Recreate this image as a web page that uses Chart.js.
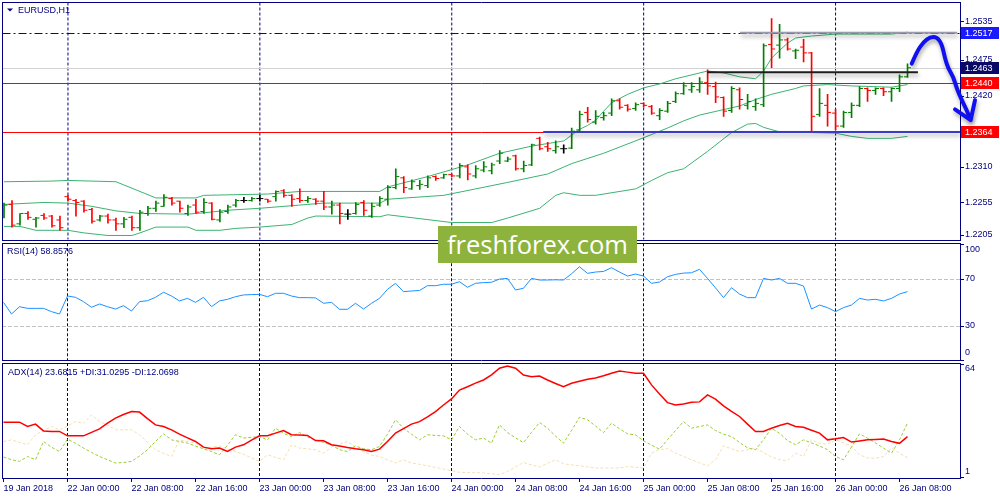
<!DOCTYPE html>
<html><head><meta charset="utf-8">
<script src="https://cdn.jsdelivr.net/npm/chart.js@4/dist/chart.umd.min.js"></script>
<style>
html,body{margin:0;padding:0;background:#fff;}
#wrap{position:relative;width:1000px;height:500px;overflow:hidden;background:#fff;}
canvas{position:absolute;left:0;}
#wm{position:absolute;left:438px;top:226px;width:199px;height:37px;background:#8db33c;color:#fff;font:25.5px "Open Sans",sans-serif;line-height:36px;text-align:center;white-space:nowrap;}
</style></head><body>
<div id="wrap">
<canvas id="cMain" width="1000" height="242" style="top:0px"></canvas>
<canvas id="cRsi" width="1000" height="120" style="top:242px"></canvas>
<canvas id="cAdx" width="1000" height="138" style="top:362px"></canvas>
<div id="wm">freshforex.com</div>
</div>
<script>
// ---------------- DATA ----------------
const symbolTitle = 'EURUSD,H1';
const rsiTitle = 'RSI(14) 58.8576';
const adxTitle = 'ADX(14) 23.6815 +DI:31.0295 -DI:12.0698';

const tickIdx = [0,8,16,24,32,40,48,56,64,72,80,88,96,104,112];
const xLabels = ['19 Jan 2018','22 Jan 00:00','22 Jan 08:00','22 Jan 16:00','23 Jan 00:00','23 Jan 08:00','23 Jan 16:00','24 Jan 00:00','24 Jan 08:00','24 Jan 16:00','25 Jan 00:00','25 Jan 08:00','25 Jan 16:00','26 Jan 00:00','26 Jan 08:00'];
const separatorIdx = [8,32,56,80,104];

const opens = [1.2234,1.2252,1.2222,1.2238,1.2229,1.2235,1.2234,1.2228,1.2264,1.2258,
1.2257,1.2244,1.2228,1.2234,1.2228,1.2222,1.2232,1.2216,1.2238,1.2246,
1.2249,1.2261,1.2257,1.2238,1.2251,1.2241,1.2254,1.2228,1.2241,1.2251,
1.2258,1.2258,1.2261,1.2260,1.2264,1.2273,1.2266,1.2261,1.2258,1.2260,
1.2257,1.2248,1.2251,1.2237,1.2238,1.2255,1.2234,1.2251,1.2260,1.2278,
1.2293,1.2276,1.2281,1.2281,1.2295,1.2293,1.2298,1.2296,1.2310,1.2296,
1.2305,1.2304,1.2319,1.2319,1.2327,1.2307,1.2313,1.2354,1.2341,1.2335,
1.2338,1.2339,1.2367,1.2394,1.2379,1.2386,1.2393,1.2412,1.2405,1.2400,
1.2408,1.2403,1.2389,1.2396,1.2411,1.2423,1.2429,1.2429,1.2440,1.2434,
1.2417,1.2397,1.2429,1.2405,1.2403,1.2406,1.2499,1.2498,1.2506,1.2489,
1.2495,1.2486,1.2391,1.2405,1.2393,1.2373,1.2394,1.2405,1.2431,1.2428,
1.2431,1.2426,1.2431,1.2449];
const highs = [1.2254,1.2258,1.2238,1.2241,1.2232,1.2238,1.2235,1.2234,1.2266,1.2260,
1.2258,1.2246,1.2235,1.2237,1.2231,1.2232,1.2234,1.2243,1.2249,1.2257,
1.2267,1.2263,1.2257,1.2251,1.2260,1.2261,1.2255,1.2244,1.2251,1.2260,
1.2263,1.2263,1.2266,1.2260,1.2273,1.2275,1.2267,1.2276,1.2264,1.2261,
1.2272,1.2257,1.2254,1.2244,1.2255,1.2258,1.2254,1.2264,1.2281,1.2307,
1.2295,1.2290,1.2289,1.2296,1.2296,1.2299,1.2299,1.2315,1.2313,1.2312,
1.2318,1.2316,1.2335,1.2325,1.2328,1.2319,1.2345,1.2356,1.2348,1.2350,
1.2344,1.2370,1.2396,1.2402,1.2397,1.2394,1.2415,1.2415,1.2406,1.2409,
1.2409,1.2405,1.2400,1.2411,1.2426,1.2440,1.2440,1.2448,1.2460,1.2441,
1.2418,1.2434,1.2432,1.2422,1.2415,1.2500,1.2539,1.2530,1.2509,1.2492,
1.2507,1.2487,1.2431,1.2422,1.2399,1.2396,1.2409,1.2434,1.2432,1.2432,
1.2432,1.2432,1.2452,1.2469];
const lows = [1.2231,1.2217,1.2220,1.2229,1.2217,1.2229,1.2217,1.2212,1.2257,1.2234,
1.2240,1.2223,1.2226,1.2223,1.2212,1.2216,1.2212,1.2212,1.2235,1.2241,
1.2249,1.2251,1.2240,1.2235,1.2238,1.2238,1.2228,1.2225,1.2238,1.2248,
1.2255,1.2257,1.2257,1.2255,1.2257,1.2263,1.2249,1.2255,1.2255,1.2252,
1.2244,1.2237,1.2222,1.2229,1.2237,1.2235,1.2232,1.2249,1.2251,1.2276,
1.2270,1.2275,1.2275,1.2278,1.2289,1.2292,1.2295,1.2293,1.2290,1.2293,
1.2302,1.2299,1.2315,1.2318,1.2305,1.2302,1.2312,1.2336,1.2334,1.2331,
1.2331,1.2338,1.2364,1.2379,1.2376,1.2382,1.2389,1.2399,1.2396,1.2397,
1.2402,1.2391,1.2383,1.2394,1.2409,1.2422,1.2425,1.2425,1.2422,1.2409,
1.2388,1.2394,1.2399,1.2399,1.2397,1.2403,1.2463,1.2478,1.2490,1.2477,
1.2472,1.2364,1.2388,1.2373,1.2367,1.2371,1.2386,1.2403,1.2411,1.2422,
1.2420,1.2411,1.2426,1.2448];
const closes = [1.2251,1.2220,1.2238,1.2232,1.2231,1.2231,1.2219,1.2216,1.2260,1.2255,
1.2243,1.2226,1.2234,1.2228,1.2222,1.2229,1.2216,1.2240,1.2246,1.2254,
1.2263,1.2254,1.2246,1.2248,1.2240,1.2255,1.2229,1.2240,1.2248,1.2258,
1.2258,1.2261,1.2261,1.2257,1.2272,1.2266,1.2260,1.2258,1.2261,1.2257,
1.2248,1.2251,1.2238,1.2237,1.2252,1.2243,1.2249,1.2261,1.2278,1.2295,
1.2278,1.2287,1.2283,1.2293,1.2292,1.2298,1.2296,1.2312,1.2299,1.2307,
1.2310,1.2313,1.2331,1.2322,1.2307,1.2312,1.2344,1.2338,1.2338,1.2341,
1.2338,1.2365,1.2391,1.2383,1.2388,1.2389,1.2412,1.2402,1.2399,1.2406,
1.2405,1.2393,1.2397,1.2408,1.2423,1.2435,1.2434,1.2441,1.2435,1.2418,
1.2396,1.2431,1.2414,1.2411,1.2408,1.2497,1.2492,1.2506,1.2492,1.2490,
1.2486,1.2388,1.2408,1.2394,1.2373,1.2394,1.2405,1.2431,1.2428,1.2431,
1.2426,1.2431,1.2449,1.2463];

// Bollinger band polyline vertices [bar index, price]
const bbUpper = [[0,1.2287],[6,1.2288],[8,1.2289],[11,1.2288],[14,1.2287],[19,1.2262],[24,1.2262],[25,1.2266],[33,1.2268],[37,1.2272],[47,1.2272],[48,1.2279],[53,1.2295],[58,1.2313],[62,1.2331],[66,1.2342],[70,1.2350],[71,1.2359],[72,1.2368],[73,1.2374],[74,1.2382],[75,1.2396],[76,1.2409],[78,1.2422],[80,1.2432],[82,1.2438],[84,1.2446],[88,1.2458],[90,1.2455],[92,1.2449],[94,1.2446],[95,1.2458],[96,1.2478],[97,1.2490],[98,1.2501],[99,1.2509],[101,1.2512],[104,1.2515],[111,1.2515],[113,1.2518]];
const bbMiddle = [[0,1.2252],[5,1.2255],[8,1.2254],[11,1.2249],[14,1.2242],[17,1.2238],[23,1.2237],[25,1.2239],[28,1.2243],[32,1.2246],[34,1.2248],[37,1.2251],[40,1.2254],[47,1.2254],[48,1.2260],[55,1.2266],[59,1.2276],[63,1.2286],[68,1.2299],[71,1.2315],[75,1.2331],[80,1.2355],[83,1.2370],[85,1.2381],[87,1.2390],[92,1.2404],[94,1.2414],[96,1.2422],[99,1.2431],[100,1.2435],[103,1.2437],[106,1.2435],[111,1.2433],[113,1.2437]];
const bbLower = [[0,1.2218],[2,1.2218],[4,1.2212],[8,1.2212],[10,1.2208],[13,1.2204],[16,1.2204],[17,1.2208],[19,1.2217],[23,1.2217],[24,1.2212],[27,1.2212],[29,1.2215],[32,1.2217],[36,1.2221],[37,1.2226],[38,1.2231],[39,1.2234],[47,1.2233],[48,1.2236],[56,1.2224],[61,1.2224],[63,1.2231],[67,1.2246],[69,1.2266],[70,1.2270],[72,1.2266],[74,1.2266],[79,1.2276],[81,1.2289],[83,1.2301],[85,1.2307],[88,1.2334],[91,1.2363],[93,1.2376],[94,1.2377],[95,1.2371],[97,1.2364],[101,1.2363],[104,1.2362],[106,1.2357],[108,1.2354],[111,1.2354],[113,1.2357]];

const rsi = [49.7,39.8,46.0,44.6,44.6,44.6,41.8,39.8,55.1,54.0,
50.3,45.5,48.3,46.0,44.0,46.9,42.3,50.3,51.1,54.0,
58.3,55.1,50.9,53.1,49.7,54.0,46.0,50.9,52.3,54.5,
56.0,56.3,56.5,54.5,57.4,57.4,55.1,53.7,53.7,53.5,
48.9,49.7,43.8,43.8,48.9,44.0,48.9,53.1,60.8,65.9,
58.8,59.4,59.8,63.9,63.9,65.1,65.1,67.3,62.5,65.9,
66.5,66.8,69.5,70.1,60.2,61.7,70.1,68.7,68.7,68.9,
68.7,74.0,80.0,74.4,75.5,76.0,79.2,75.5,72.1,73.8,
72.1,65.9,67.0,71.5,73.5,74.6,74.9,77.8,70.1,62.0,
53.7,62.2,56.8,53.7,53.7,70.1,68.7,70.1,65.9,65.9,
63.6,44.0,47.4,45.2,41.8,45.2,47.4,53.1,51.7,52.3,
50.9,53.1,56.8,58.86];
const adx = [31.6,31.6,31.6,29.2,30.5,26.8,26.5,26.5,24.1,24.1,
24.1,26.0,27.9,31.0,33.8,35.8,37.4,37.1,33.5,30.1,
29.2,27.4,25.0,23.0,21.0,17.9,17.0,17.4,15.5,17.9,
19.2,21.8,24.1,24.1,25.6,27.0,24.7,24.5,24.3,21.5,
21.4,19.2,18.5,17.7,17.0,16.5,15.5,16.8,21.0,25.6,
28.0,30.5,31.9,34.5,37.4,41.0,44.3,49.2,51.0,53.0,
54.7,57.5,61.1,62.4,61.1,57.4,56.5,56.9,54.7,52.8,
51.0,52.9,54.0,55.1,55.8,57.0,58.4,59.6,59.0,58.4,
58.4,52.0,47.0,42.3,41.0,41.5,42.5,42.7,46.5,44.2,
40.5,37.5,34.7,30.5,26.5,26.5,28.3,29.8,31.0,29.2,
28.8,27.2,25.6,21.9,22.5,23.2,20.7,21.3,21.9,22.1,
22.3,21.0,20.0,23.68];
const plusDI = [12.5,11.0,10.1,12.8,11.0,21.0,17.9,15.5,22.3,20.0,
17.4,15.0,12.8,11.0,9.2,9.5,10.1,13.0,16.5,21.0,
25.2,21.9,21.0,20.1,18.5,17.0,15.5,13.7,19.0,24.7,
22.9,23.3,23.7,21.9,28.3,25.5,23.7,25.9,23.5,21.9,
20.5,19.0,16.5,15.5,18.6,17.0,16.5,18.3,25.0,32.9,
28.3,25.0,21.9,24.7,24.3,24.1,21.9,29.2,25.0,21.9,
22.9,20.1,30.1,25.9,23.0,20.4,26.0,31.4,28.3,24.0,
20.1,27.0,34.3,32.9,29.5,25.9,31.0,28.0,25.2,24.6,
21.4,19.0,16.8,22.0,27.0,31.9,28.3,29.2,30.1,27.0,
25.0,23.7,20.5,17.5,16.5,22.0,28.3,25.5,21.5,19.2,
21.9,20.2,18.6,16.5,12.8,11.0,18.0,25.2,22.9,20.2,
17.4,14.6,22.0,31.03];
const minusDI = [21.0,21.9,20.5,19.2,24.7,27.0,29.2,27.4,29.5,31.9,
31.0,35.6,31.9,30.1,27.4,27.4,27.4,24.7,20.5,16.5,
14.5,12.8,21.9,21.0,20.1,17.4,18.0,18.6,17.0,15.5,
14.0,12.0,10.1,13.7,12.3,11.0,19.2,17.4,17.0,16.5,
14.6,17.9,19.5,21.0,17.9,15.5,13.5,12.8,11.0,9.2,
11.0,9.2,8.5,7.7,6.8,5.9,5.0,4.1,4.0,3.9,
3.8,3.3,2.8,4.6,7.0,9.5,8.2,7.0,9.0,11.0,
8.8,8.2,7.7,7.1,6.5,6.5,6.5,6.5,7.3,6.9,
6.5,14.6,16.5,17.2,14.6,12.8,11.0,9.3,7.7,11.0,
18.6,17.0,15.5,16.5,17.4,15.0,12.5,11.0,10.5,14.6,
12.8,21.9,20.0,19.5,21.9,20.2,18.6,13.7,12.0,11.8,
12.8,17.4,14.5,12.07];

const priceTicks = [1.2535,1.2475,1.2420,1.2365,1.2310,1.2255,1.2205];
const rsiTicks = [100,70,30,0];
const rsiLevels = [70,30];
const adxTicks = [64,1];
const levelPrices = [1.2517,1.2463,1.2440,1.2364];   // horizontal lines + axis boxes
const trendLines = [[67.44,119.56,1.2364],[87.94,114.3,1.2456],[92.06,119.2,1.2517]]; // [fromIdx,toIdx,price]
const arrowPath = [[113.53,1.24695],[114.15,1.24874],[114.98,1.25028],[115.81,1.25104],[116.65,1.25104],[117.28,1.25003],[117.69,1.24772],[118.1,1.24618],[118.73,1.24489],[119.15,1.24311],[119.78,1.24131],[120.4,1.23977],[120.81,1.2385]];
const arrowHead = [[118.94,1.23988],[120.9,1.23823],[121.44,1.24131]];

// ---------------- STYLE / LAYOUT ----------------
const NAVY = '#000080';
const FONT = '"Liberation Sans", Arial, sans-serif';
const XMIN = -0.1875, XMAX = XMIN + 958/8;
const YMIN = 1.21978, YMAX = 1.25638;
const levelStyles = [
  {color:'#0000cd', dash:[8,3,2,3], box:'#1a1aff'},
  {color:'#d3d3d3', dash:[], box:'#0a0a66'},
  {color:'#ff0000', dash:[], box:'#ff0000'},
  {color:'#ff0000', dash:[], box:'#ff0000'}
];
const trendStyles = [{color:'#3a3ac8', w:2},{color:'#1e1e1e', w:2},{color:'#9a9aae', w:2}];

function barColor(i){ return closes[i] > opens[i] ? '#008000' : (closes[i] < opens[i] ? '#ff0000' : '#000000'); }
const colors = opens.map((o,i)=>barColor(i));
const idx = opens.map((o,i)=>i);

function xScale(show){
  const s = {type:'linear', min:XMIN, max:XMAX, display:show, offset:false, bounds:'ticks', grace:0};
  if(show){
    s.position='bottom';
    s.afterBuildTicks = (sc)=>{ sc.ticks = tickIdx.map(v=>({value:v})); };
    s.afterFit = (sc)=>{ sc.height = 22; };
    s.ticks = {autoSkip:false, maxRotation:0, minRotation:0, align:'start', padding:1, color:NAVY, font:{family:FONT, size:9},
      callback:(v,i)=>xLabels[i]};
    s.grid = {drawOnChartArea:false, drawTicks:true, tickLength:4, color:NAVY, lineWidth:1, offset:false};
    s.border = {display:true, color:NAVY, width:1};
  }
  return s;
}
function text(ctx, s, x, y, color, align){
  ctx.fillStyle = color; ctx.font = '9px ' + FONT; ctx.textAlign = align || 'left'; ctx.textBaseline = 'middle'; ctx.fillText(s, x, y);
}
function separators(ctx, chart){
  const a = chart.chartArea, x = chart.scales.x;
  ctx.save(); ctx.strokeStyle = NAVY; ctx.lineWidth = 1; ctx.setLineDash([3,2]);
  separatorIdx.forEach(v=>{ const px = x.getPixelForValue(v); ctx.beginPath(); ctx.moveTo(px, a.top); ctx.lineTo(px, a.bottom); ctx.stroke(); });
  ctx.restore();
}
function frame(ctx, topRow, bottomRow, drawBottom){
  ctx.save(); ctx.strokeStyle = NAVY; ctx.lineWidth = 1; ctx.setLineDash([]);
  ctx.beginPath();
  ctx.moveTo(2, topRow + .5); ctx.lineTo(961, topRow + .5);
  if(drawBottom){ ctx.moveTo(2, bottomRow + .5); ctx.lineTo(961, bottomRow + .5); }
  ctx.moveTo(2.5, topRow); ctx.lineTo(2.5, bottomRow + 1);
  ctx.moveTo(960.5, topRow); ctx.lineTo(960.5, bottomRow + 1);
  ctx.stroke(); ctx.restore();
}
function axisLabels(ctx, chart, values, fmt, clampTop, clampBottom){
  const a = chart.chartArea, y = chart.scales.y;
  ctx.save(); ctx.strokeStyle = NAVY; ctx.lineWidth = 1;
  values.forEach(v=>{
    const py = y.getPixelForValue(v);
    const ty = Math.min(Math.max(py, a.top + 1), a.bottom - 1);
    ctx.beginPath(); ctx.moveTo(960, Math.round(ty)+.5); ctx.lineTo(964, Math.round(ty)+.5); ctx.stroke();
    const ly = Math.min(Math.max(py, a.top + clampTop), a.bottom - clampBottom);
    text(ctx, fmt(v), 965, ly, NAVY);
  });
  ctx.restore();
}
const shadowPlugin = {
  id:'shadow',
  beforeDatasetDraw(chart, args){
    const ds = chart.data.datasets[args.index];
    if(ds.shadow){ const c = chart.ctx; c.save(); c.shadowColor='rgba(0,0,0,0.35)'; c.shadowBlur=4; c.shadowOffsetX=1; c.shadowOffsetY=3; }
  },
  afterDatasetDraw(chart, args){
    const ds = chart.data.datasets[args.index];
    if(ds.shadow){ chart.ctx.restore(); }
  }
};

// ---------------- MAIN PRICE CHART ----------------
const mainDeco = {
  id:'mainDeco',
  beforeDatasetsDraw(chart){
    const ctx = chart.ctx, a = chart.chartArea, y = chart.scales.y;
    separators(ctx, chart);
    ctx.save();
    ctx.beginPath(); ctx.rect(a.left, a.top, a.right - a.left, a.bottom - a.top); ctx.clip();
    levelPrices.forEach((p,k)=>{
      const st = levelStyles[k]; const py = Math.round(y.getPixelForValue(p)) + .5;
      ctx.strokeStyle = st.color; ctx.lineWidth = 1; ctx.setLineDash(st.dash);
      ctx.beginPath(); ctx.moveTo(a.left, py); ctx.lineTo(a.right, py); ctx.stroke();
    });
    ctx.restore();
    frame(ctx, 2, 240, true);
    axisLabels(ctx, chart, priceTicks, v=>v.toFixed(4), 5, 4);
    levelPrices.forEach((p,k)=>{
      const py = Math.round(y.getPixelForValue(p));
      ctx.fillStyle = levelStyles[k].box; ctx.fillRect(961, py - 6, 38, 12);
      text(ctx, p.toFixed(4), 965, py + 0.5, '#ffffff');
    });
    ctx.fillStyle = NAVY; ctx.beginPath(); ctx.moveTo(7,8.5); ctx.lineTo(13,8.5); ctx.lineTo(10,11.5); ctx.closePath(); ctx.fill();
    text(ctx, symbolTitle, 18, 10.5, NAVY);
  },
  afterDatasetsDraw(chart){
    // hand-drawn forecast arrow (annotation), positioned through the chart's own scales
    const ctx = chart.ctx, x = chart.scales.x, y = chart.scales.y;
    const pts = arrowPath.map(p=>[x.getPixelForValue(p[0]), y.getPixelForValue(p[1])]);
    const head = arrowHead.map(p=>[x.getPixelForValue(p[0]), y.getPixelForValue(p[1])]);
    ctx.save();
    ctx.shadowColor='rgba(0,0,0,0.35)'; ctx.shadowBlur=4; ctx.shadowOffsetX=1; ctx.shadowOffsetY=3;
    ctx.strokeStyle='#1010f0'; ctx.lineWidth=4; ctx.lineCap='round'; ctx.lineJoin='round';
    ctx.beginPath(); ctx.moveTo(pts[0][0], pts[0][1]);
    for(let k=1;k<pts.length-1;k++){
      const mx=(pts[k][0]+pts[k+1][0])/2, my=(pts[k][1]+pts[k+1][1])/2;
      ctx.quadraticCurveTo(pts[k][0], pts[k][1], mx, my);
    }
    ctx.lineTo(pts[pts.length-1][0], pts[pts.length-1][1]);
    ctx.stroke();
    ctx.beginPath(); ctx.moveTo(head[0][0], head[0][1]); ctx.lineTo(head[1][0], head[1][1]); ctx.lineTo(head[2][0], head[2][1]); ctx.stroke();
    ctx.restore();
  }
};

new Chart(document.getElementById('cMain'), {
  type:'scatter',
  data:{datasets:[
    ...trendLines.map((t,k)=>({type:'line', data:[{x:t[0],y:t[2]},{x:t[1],y:t[2]}], borderColor:trendStyles[k].color, borderWidth:trendStyles[k].w, pointRadius:0, clip:false, order:1, shadow:true})),
    {type:'scatter', data:idx.map(i=>({x:i-0.25, y:opens[i]})), pointStyle:'line', pointRadius:1.5, pointHoverRadius:1.5, pointBorderWidth:1, pointBorderColor:colors, order:2},
    {type:'scatter', data:idx.map(i=>({x:i+0.25, y:closes[i]})), pointStyle:'line', pointRadius:1.5, pointHoverRadius:1.5, pointBorderWidth:1, pointBorderColor:colors, order:2},
    {type:'bar', data:idx.map(i=>({x:i, y:[lows[i], highs[i]]})), backgroundColor:colors, barThickness:1, borderWidth:0, grouped:false, order:2},
    {type:'line', data:bbUpper.map(p=>({x:p[0],y:p[1]})), borderColor:'#3cb371', borderWidth:1, pointRadius:0, tension:0, order:3},
    {type:'line', data:bbMiddle.map(p=>({x:p[0],y:p[1]})), borderColor:'#3cb371', borderWidth:1, pointRadius:0, tension:0, order:3},
    {type:'line', data:bbLower.map(p=>({x:p[0],y:p[1]})), borderColor:'#3cb371', borderWidth:1, pointRadius:0, tension:0, order:3}
  ]},
  options:{
    responsive:false, animation:false, devicePixelRatio:1,
    layout:{padding:{left:2, right:40, top:2, bottom:2}},
    plugins:{legend:{display:false}, tooltip:{enabled:false}},
    events:[],
    scales:{x:xScale(false), y:{type:'linear', min:YMIN, max:YMAX, display:false, beginAtZero:false, grace:0}}
  },
  plugins:[mainDeco, shadowPlugin]
});

// ---------------- RSI ----------------
const rsiDeco = {
  id:'rsiDeco',
  beforeDatasetsDraw(chart){
    const ctx = chart.ctx, a = chart.chartArea, y = chart.scales.y;
    separators(ctx, chart);
    ctx.save(); ctx.strokeStyle = '#c0c0c0'; ctx.lineWidth = 1; ctx.setLineDash([4,2]);
    rsiLevels.forEach(v=>{ const py = Math.round(y.getPixelForValue(v)) + .5; ctx.beginPath(); ctx.moveTo(a.left, py); ctx.lineTo(a.right, py); ctx.stroke(); });
    ctx.restore();
    frame(ctx, 1, 118, true);
    axisLabels(ctx, chart, rsiTicks, v=>String(v), 6, 8);
    text(ctx, rsiTitle, 7, 10, NAVY);
  }
};
new Chart(document.getElementById('cRsi'), {
  type:'line',
  data:{datasets:[{data:idx.map(i=>({x:i, y:rsi[i]})), borderColor:'#1e90ff', borderWidth:1, pointRadius:0, tension:0}]},
  options:{
    responsive:false, animation:false, devicePixelRatio:1, events:[],
    layout:{padding:{left:2, right:40, top:1.25, bottom:1.25}},
    plugins:{legend:{display:false}, tooltip:{enabled:false}},
    scales:{x:xScale(false), y:{type:'linear', min:0, max:100, display:false}}
  },
  plugins:[rsiDeco]
});

// ---------------- ADX ----------------
const adxDeco = {
  id:'adxDeco',
  beforeDatasetsDraw(chart){
    const ctx = chart.ctx;
    separators(ctx, chart);
    frame(ctx, 1, 115, false);
    axisLabels(ctx, chart, adxTicks, v=>String(v), 6, 6);
    text(ctx, adxTitle, 8, 10.5, NAVY);
  }
};
new Chart(document.getElementById('cAdx'), {
  type:'line',
  data:{datasets:[
    {data:idx.map(i=>({x:i, y:adx[i]})), borderColor:'#ff0000', borderWidth:1.5, pointRadius:0, tension:0},
    {data:idx.map(i=>({x:i, y:plusDI[i]})), borderColor:'#9acd32', borderWidth:1, borderDash:[3,2], pointRadius:0, tension:0},
    {data:idx.map(i=>({x:i, y:minusDI[i]})), borderColor:'#f5deb3', borderWidth:1, borderDash:[3,2], pointRadius:0, tension:0}
  ]},
  options:{
    responsive:false, animation:false, devicePixelRatio:1, events:[],
    layout:{padding:{left:2, right:40, top:1, bottom:0}},
    plugins:{legend:{display:false}, tooltip:{enabled:false}},
    scales:{x:xScale(true), y:{type:'linear', min:1, max:64, display:false}}
  },
  plugins:[adxDeco]
});
</script>
</body></html>
